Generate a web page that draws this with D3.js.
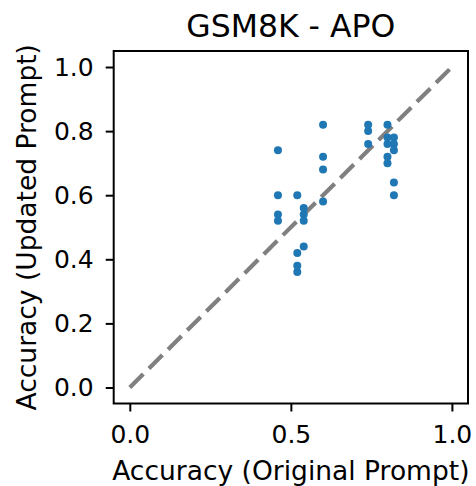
<!DOCTYPE html>
<html>
<head>
<meta charset="utf-8">
<script src="https://cdn.jsdelivr.net/npm/d3@7"></script>
<style>
body{margin:0;background:#fff;}
svg{display:block;font-family:"DejaVu Sans",sans-serif;}
</style>
</head>
<body>
<svg id="chart" width="476" height="486"></svg>
<script>
const title = "GSM8K - APO";
const xLabel = "Accuracy (Original Prompt)";
const yLabel = "Accuracy (Updated Prompt)";
const xTicks = [0.0, 0.5, 1.0];
const yTicks = [0.0, 0.2, 0.4, 0.6, 0.8, 1.0];
const originalAcc = [0.46, 0.46, 0.46, 0.46, 0.52, 0.52, 0.52, 0.52, 0.54, 0.54, 0.54, 0.54, 0.60, 0.60, 0.60, 0.60, 0.74, 0.74, 0.74, 0.80, 0.80, 0.80, 0.80, 0.80, 0.82, 0.82, 0.82, 0.82, 0.82];
const updatedAcc  = [0.74, 0.60, 0.54, 0.52, 0.60, 0.42, 0.38, 0.36, 0.56, 0.54, 0.52, 0.44, 0.82, 0.72, 0.68, 0.58, 0.82, 0.80, 0.76, 0.82, 0.78, 0.76, 0.72, 0.70, 0.78, 0.76, 0.74, 0.64, 0.60];

const svg = d3.select("#chart");
const L = 113.7, R = 468, T = 51, B = 403.5;
const x = d3.scaleLinear().domain([-0.05, 1.05]).range([L, R]);
const y = d3.scaleLinear().domain([-0.05, 1.05]).range([B, T]);

// diagonal
svg.append("line")
  .attr("x1", x(0)).attr("y1", y(0)).attr("x2", x(1)).attr("y2", y(1))
  .attr("stroke", "#808080").attr("stroke-width", 4.2)
  .attr("stroke-dasharray", "19,8");

// points
svg.append("g").selectAll("circle")
  .data(originalAcc.map((v, i) => [v, updatedAcc[i]]))
  .join("circle")
  .attr("cx", d => x(d[0])).attr("cy", d => y(d[1]))
  .attr("r", 4).attr("fill", "#1f77b4");

// axes
const xAxis = svg.append("g").attr("transform", `translate(0,${B})`)
  .call(d3.axisBottom(x).tickValues(xTicks).tickFormat(d3.format(".1f")).tickSize(8).tickPadding(14));
const yAxis = svg.append("g").attr("transform", `translate(${L},0)`)
  .call(d3.axisLeft(y).tickValues(yTicks).tickFormat(d3.format(".1f")).tickSize(8).tickPadding(12));
[xAxis, yAxis].forEach(a => {
  a.select(".domain").remove();
  a.selectAll("line").attr("stroke", "#000").attr("stroke-width", 2);
  a.selectAll("text").attr("font-size", 25).attr("fill", "#000").attr("font-family", "DejaVu Sans");
});

// frame
svg.append("rect").attr("x", L).attr("y", T).attr("width", R - L).attr("height", B - T)
  .attr("fill", "none").attr("stroke", "#000").attr("stroke-width", 2);

svg.append("text").attr("x", (L + R) / 2).attr("y", 37).attr("text-anchor", "middle")
  .attr("font-size", 31.5).attr("fill", "#000").text(title);
svg.append("text").attr("x", (L + R) / 2).attr("y", 480).attr("text-anchor", "middle")
  .attr("font-size", 26.5).attr("fill", "#000").text(xLabel);
svg.append("text").attr("transform", `translate(35.5,${(T + B) / 2}) rotate(-90)`)
  .attr("text-anchor", "middle")
  .attr("font-size", 26.5).attr("fill", "#000").text(yLabel);
</script>
</body>
</html>
